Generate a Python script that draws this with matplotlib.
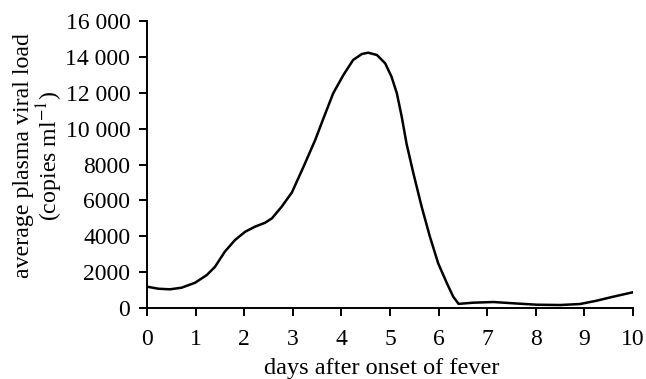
import matplotlib
matplotlib.use("Agg")
import matplotlib.pyplot as plt

plt.rcParams['font.family'] = ['Liberation Serif', 'DejaVu Serif']
plt.rcParams['mathtext.fontset'] = 'stix'

# values
days = [0.0, 0.23, 0.47, 0.71, 0.99, 1.23, 1.40, 1.60, 1.81, 2.02, 2.22, 2.43, 2.57,
        2.77, 2.98, 3.22, 3.46, 3.63, 3.83, 4.04, 4.24, 4.42, 4.55, 4.73, 4.90,
        5.03, 5.14, 5.24, 5.34, 5.48, 5.65, 5.82, 5.99, 6.17, 6.30, 6.41, 6.71,
        7.13, 7.54, 8.02, 8.50, 8.91, 9.25, 9.59, 10.0]
load = [1190, 1076, 1042, 1132, 1411, 1840, 2302, 3139, 3791, 4254, 4533, 4756, 5000,
        5648, 6440, 7877, 9366, 10576, 11970, 12990, 13826, 14160, 14233, 14105, 13640,
        12896, 11970, 10665, 9150, 7510, 5648, 3975, 2492, 1377, 630, 230, 297,
        334, 262, 184, 167, 223, 407, 630, 880]

yticks = [0, 2000, 4000, 6000, 8000, 10000, 12000, 14000, 16000]
ytick_labels = ['0', '2000', '4000', '6000', '8000', '10 000', '12 000', '14 000', '16 000']

fig = plt.figure(figsize=(6.46, 3.79), dpi=100)
ax = fig.add_axes([0.2276, 0.1873, 0.7524, 0.7573])
ax.plot(days, load, color='black', linewidth=1.8, solid_joinstyle='round')

ax.set_xlim(0, 10)
ax.set_ylim(0, 16000)
ax.set_xticks(range(0, 11))
ax.set_yticks(yticks)
ax.set_yticklabels(ytick_labels)
ax.tick_params(labelsize=17, length=6, width=1.4, direction='out')
ax.tick_params(axis='x', pad=9)
ax.tick_params(axis='y', pad=6)
for s in ['top', 'right']:
    ax.spines[s].set_visible(False)
for s in ['left', 'bottom']:
    ax.spines[s].set_linewidth(1.4)

ax.set_xlabel('days after onset of fever', fontsize=17.5)
ax.xaxis.set_label_coords(0.4825, -0.174)
ax.set_ylabel('average plasma viral load\n(copies ml$^{-1}$)', fontsize=17.2,
              linespacing=1.05)
ax.yaxis.set_label_coords(-0.168, 0.53)

fig.savefig('out.png', dpi=100)
